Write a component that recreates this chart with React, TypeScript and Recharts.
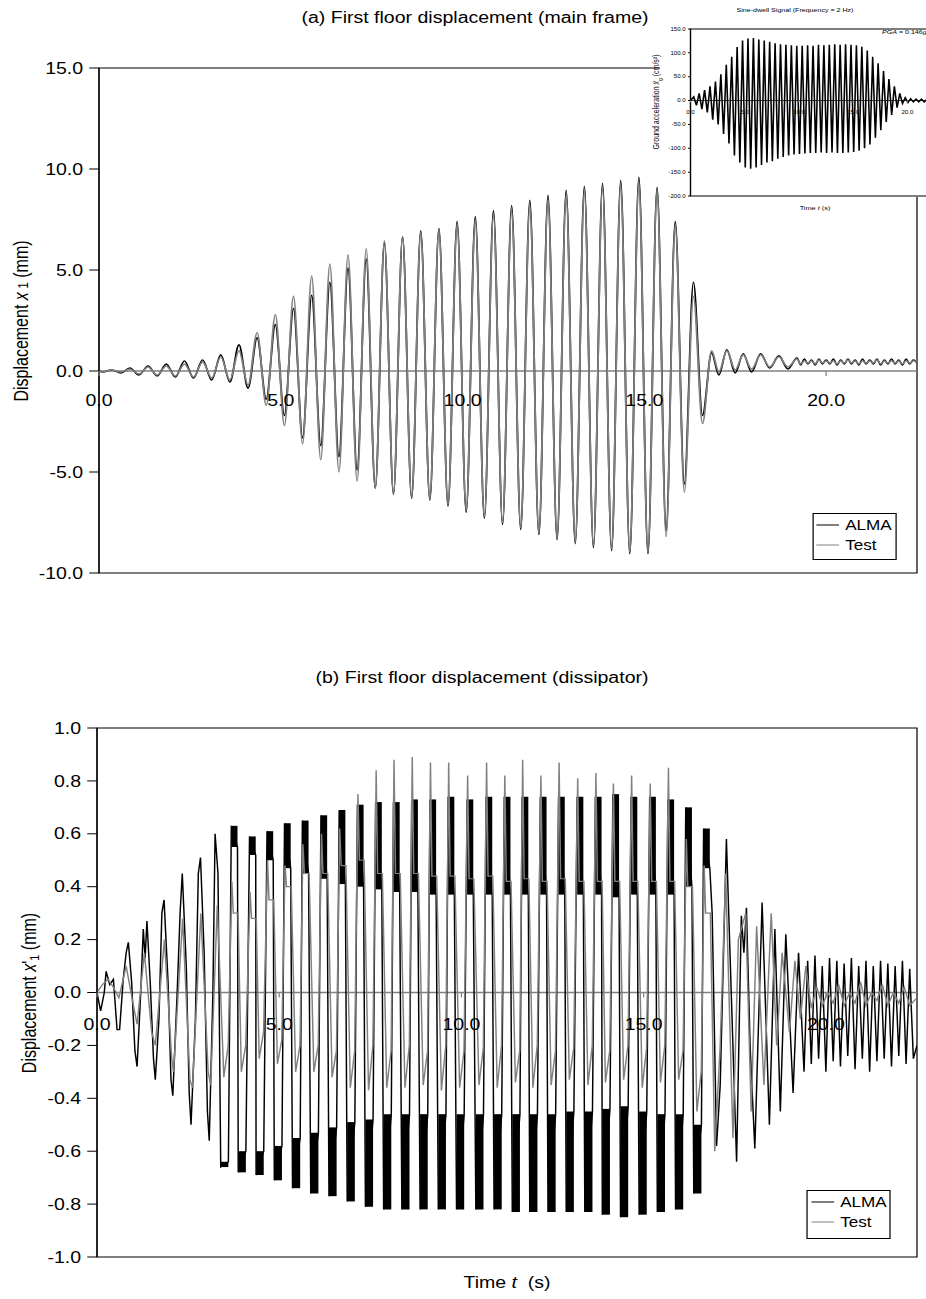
import {
  LineChart,
  Line,
  XAxis,
  YAxis,
  ReferenceLine,
  ReferenceArea,
  Legend,
} from "recharts";

// the source figure is stretched sideways, so everything is drawn narrower and scaled back out
const SX = 1.22;
const px = (v: number) => v / SX;
const PAGE_W = 926;
const PAGE_H = 1299;
const INNER_W = PAGE_W / SX;
const FONT = "'Liberation Sans', Arial, Helvetica, sans-serif";
const GRAY = "#808080";

const xTicks = [0, 5, 10, 15, 20];

// ---------- (a) first floor displacement, main frame (mm) ----------
const aYTicks = [-10, -5, 0, 5, 10, 15];
const aTime = [
  0, 0.1, 0.35, 0.6, 0.85, 1.1, 1.35, 1.6, 1.85, 2.1, 2.35, 2.6, 2.85, 3.1, 3.35, 3.6, 3.85, 4.1,
  4.35, 4.6, 4.85, 5.1, 5.35, 5.6, 5.85, 6.1, 6.35, 6.6, 6.85, 7.1, 7.35, 7.6, 7.85, 8.1, 8.35,
  8.6, 8.85, 9.1, 9.35, 9.6, 9.85, 10.1, 10.35, 10.6, 10.85, 11.1, 11.35, 11.6, 11.85, 12.1,
  12.35, 12.6, 12.85, 13.1, 13.35, 13.6, 13.85, 14.1, 14.35, 14.6, 14.85, 15.1, 15.35, 15.6,
  15.85, 16.1, 16.35, 16.6, 16.85,
  17.05, 17.27, 17.5, 17.72, 17.95, 18.2, 18.45, 18.7, 18.95, 19.2,
  19.3, 19.4, 19.5, 19.6, 19.7, 19.8, 19.9, 20.0, 20.1, 20.2, 20.3, 20.4, 20.5, 20.6, 20.7, 20.8,
  20.9, 21.0, 21.1, 21.2, 21.3, 21.4, 21.5, 21.6, 21.7, 21.8, 21.9, 22.0, 22.1, 22.2, 22.3, 22.4,
  22.5,
];
const aAlma = [
  0, -0.05, 0.05, -0.1, 0.15, -0.2, 0.25, -0.25, 0.35, -0.3,
  0.5, -0.35, 0.55, -0.45, 0.8, -0.55, 1.3, -0.85, 1.65, -1.4,
  2.3, -2.2, 3.1, -3.3, 3.75, -3.7, 4.4, -4.25, 5.1, -4.9,
  5.55, -5.8, 6.35, -6.1, 6.65, -6.3, 6.95, -6.4, 7.05, -6.7,
  7.4, -7.0, 7.65, -7.3, 7.95, -7.6, 8.2, -7.85, 8.45, -8.1,
  8.7, -8.35, 8.95, -8.55, 9.15, -8.75, 9.3, -8.9, 9.45, -9.05,
  9.6, -9.05, 9.1, -7.9, 7.4, -5.6, 4.4, -2.2, 0.9,
  -0.2, 1.05, -0.1, 0.85, -0.05, 0.85, 0.15, 0.75, 0.1, 0.65,
  0.3, 0.6, 0.35, 0.55, 0.3, 0.6, 0.35, 0.55, 0.35, 0.6,
  0.3, 0.55, 0.35, 0.6, 0.35, 0.55, 0.3, 0.6, 0.35, 0.55,
  0.35, 0.6, 0.3, 0.55, 0.35, 0.6, 0.35, 0.55, 0.3, 0.6,
  0.35, 0.55, 0.4,
];
const aTest = [
  0, -0.05, 0.05, -0.05, 0.1, -0.15, 0.2, -0.2, 0.25, -0.25,
  0.35, -0.3, 0.45, -0.35, 0.7, -0.45, 1.0, -0.7, 1.9, -1.7,
  2.8, -2.7, 3.7, -3.6, 4.7, -4.4, 5.3, -5.0, 5.75, -5.45,
  6.05, -5.8, 6.45, -6.05, 6.65, -6.25, 6.85, -6.35, 7.0, -6.6,
  7.25, -6.9, 7.45, -7.2, 7.7, -7.5, 7.95, -7.75, 8.2, -8.0,
  8.45, -8.25, 8.7, -8.45, 8.9, -8.65, 9.05, -8.8, 9.2, -8.95,
  9.35, -8.95, 8.95, -8.2, 7.2, -6.0, 3.7, -2.6, 1.0,
  -0.05, 1.0, 0.05, 0.8, 0.1, 0.8, 0.2, 0.7, 0.2, 0.6,
  0.35, 0.5, 0.4, 0.5, 0.35, 0.55, 0.4, 0.5, 0.4, 0.5,
  0.35, 0.5, 0.4, 0.55, 0.4, 0.5, 0.35, 0.5, 0.4, 0.5,
  0.4, 0.55, 0.35, 0.5, 0.4, 0.5, 0.4, 0.5, 0.35, 0.5,
  0.4, 0.5, 0.45,
];

// ---------- (b) first floor displacement, dissipator (mm) ----------
const bYTicks = [-1, -0.8, -0.6, -0.4, -0.2, 0, 0.2, 0.4, 0.6, 0.8, 1];
// build-up before the dissipator saturates
const bPreT = [
  0, 0.1, 0.2, 0.25, 0.35, 0.45, 0.55, 0.62, 0.72, 0.8, 0.86, 0.95, 1.04, 1.1, 1.2, 1.27, 1.32,
  1.37, 1.46, 1.55, 1.6, 1.7, 1.78, 1.84, 1.95, 2.03, 2.08, 2.2, 2.28, 2.34, 2.45, 2.53, 2.58,
  2.7, 2.78, 2.84, 2.94, 3.03, 3.08, 3.18, 3.24, 3.32,
];
const bPreAlma = [
  0, -0.07, 0.0, 0.08, 0.03, 0.05, -0.14, -0.14, 0.05, 0.15, 0.19, 0.04, -0.22, -0.28, 0.0, 0.24,
  0.13, 0.27, 0.04, -0.25, -0.33, -0.1, 0.3, 0.35, 0.04, -0.33, -0.39, 0.0, 0.3, 0.45, 0.1, -0.38,
  -0.5, -0.1, 0.45, 0.51, 0.15, -0.45, -0.56, 0.0, 0.6, 0.45,
];
const bPreTestT = [
  0, 0.15, 0.3, 0.45, 0.6, 0.8, 1.0, 1.1, 1.3, 1.5, 1.6, 1.85, 2.05, 2.1, 2.35, 2.55, 2.62, 2.85,
  3.05, 3.12, 3.3,
];
const bPreTest = [
  0, 0.03, 0.05, 0.02, -0.02, 0.1, -0.05, -0.12, 0.15, -0.15, -0.2, 0.2, -0.25, -0.3, 0.28, -0.33,
  -0.36, 0.3, -0.3, -0.35, 0.33,
];
// saturated cycles: ALMA chatters inside a band at the top and at the bottom of each cycle
const bTopT = [
  3.77, 4.27, 4.75, 5.23, 5.72, 6.23, 6.73, 7.23, 7.73, 8.22, 8.72, 9.22, 9.72, 10.24, 10.76,
  11.26, 11.75, 12.25, 12.75, 13.26, 13.76, 14.24, 14.74, 15.25, 15.75, 16.24, 16.73,
];
const bTopHi = [
  0.63, 0.59, 0.61, 0.64, 0.65, 0.67, 0.69, 0.71, 0.72, 0.72, 0.73, 0.73, 0.74, 0.73, 0.74, 0.74,
  0.74, 0.74, 0.74, 0.74, 0.74, 0.75, 0.74, 0.74, 0.73, 0.7, 0.62,
];
const bTopLo = [
  0.55, 0.52, 0.5, 0.47, 0.45, 0.43, 0.41, 0.4, 0.39, 0.38, 0.38, 0.37, 0.37, 0.37, 0.37, 0.37,
  0.37, 0.37, 0.37, 0.37, 0.37, 0.36, 0.37, 0.37, 0.37, 0.4, 0.47,
];
const bBotT = [
  3.5, 3.98, 4.47, 4.97, 5.47, 5.97, 6.47, 6.97, 7.47, 7.97, 8.47, 8.97, 9.47, 9.97, 10.5, 11.0,
  11.5, 11.98, 12.48, 12.98, 13.49, 13.97, 14.47, 14.98, 15.48, 15.98, 16.48,
];
const bBotLo = [
  -0.66, -0.68, -0.69, -0.71, -0.74, -0.76, -0.77, -0.79, -0.81, -0.82, -0.82, -0.82, -0.82,
  -0.82, -0.82, -0.82, -0.83, -0.83, -0.83, -0.83, -0.83, -0.84, -0.85, -0.84, -0.83, -0.82, -0.76,
];
const bBotHi = [
  -0.64, -0.6, -0.6, -0.58, -0.55, -0.53, -0.51, -0.49, -0.48, -0.46, -0.46, -0.46, -0.46, -0.46,
  -0.46, -0.46, -0.46, -0.46, -0.46, -0.45, -0.45, -0.44, -0.43, -0.45, -0.46, -0.46, -0.5,
];
const bTestSpike = [
  0.42, 0.38, 0.5, 0.48, 0.56, 0.6, 0.62, 0.75, 0.84, 0.88, 0.89, 0.87, 0.87, 0.82, 0.87, 0.82,
  0.88, 0.82, 0.87, 0.81, 0.83, 0.79, 0.82, 0.79, 0.85, 0.58, 0.48,
];
const bTestShoulder = [
  0.3, 0.28, 0.35, 0.4, 0.45, 0.45, 0.48, 0.5, 0.45, 0.45, 0.45, 0.44, 0.44, 0.43, 0.44, 0.42,
  0.43, 0.42, 0.43, 0.42, 0.42, 0.42, 0.42, 0.42, 0.42, 0.4, 0.3,
];
const bTestTrough = [
  -0.32, -0.3, -0.25, -0.27, -0.3, -0.3, -0.32, -0.36, -0.37, -0.36, -0.36, -0.35, -0.37, -0.36,
  -0.35, -0.36, -0.34, -0.36, -0.35, -0.33, -0.35, -0.34, -0.33, -0.36, -0.34, -0.33, -0.45,
];
const bTestLedge = [
  -0.2, -0.2, -0.15, -0.18, -0.2, -0.2, -0.22, -0.22, -0.2, -0.22, -0.2, -0.22, -0.2, -0.22,
  -0.21, -0.2, -0.22, -0.2, -0.22, -0.21, -0.2, -0.22, -0.2, -0.21, -0.2, -0.22, -0.3,
];
// free vibration after the input stops
const bPostT = [
  16.88, 17.0, 17.1, 17.27, 17.38, 17.55, 17.68, 17.75, 17.82, 17.92, 18.05, 18.25, 18.45, 18.6,
  18.75, 18.9, 19.1, 19.25, 19.4, 19.5, 19.6, 19.7, 19.8, 19.9, 20.0, 20.1, 20.2, 20.3, 20.4,
  20.5, 20.6, 20.7, 20.8, 20.9, 21.0, 21.1, 21.2, 21.3, 21.4, 21.5, 21.6, 21.7, 21.8, 21.9, 22.0,
  22.1, 22.2, 22.3, 22.4, 22.5,
];
const bPostAlma = [
  0.3, -0.58, -0.35, 0.58, 0.1, -0.64, 0.29, 0.15, 0.32, -0.2, -0.59, 0.34, -0.5, 0.24, -0.45,
  0.22, -0.38, 0.15, -0.3, 0.12, -0.27, 0.14, -0.25, 0.1, -0.3, 0.13, -0.26, 0.12, -0.28, 0.11,
  -0.24, 0.13, -0.29, 0.1, -0.25, 0.12, -0.3, 0.1, -0.26, 0.12, -0.25, 0.11, -0.28, 0.1, -0.24,
  0.12, -0.27, 0.09, -0.25, -0.2,
];
const bPostTestT = [
  16.95, 17.1, 17.25, 17.45, 17.6, 17.8, 17.95, 18.1, 18.3, 18.5, 18.65, 18.8, 19.0, 19.15, 19.3,
  19.45, 19.6, 19.75, 19.9, 20.05, 20.2, 20.35, 20.5, 20.65, 20.8, 20.95, 21.1, 21.25, 21.4,
  21.55, 21.7, 21.85, 22.0, 22.15, 22.3, 22.5,
];
const bPostTest = [
  -0.6, -0.2, 0.45, -0.55, 0.2, 0.3, -0.45, 0.25, -0.35, 0.3, -0.2, 0.15, -0.15, 0.12, -0.1, 0.1,
  -0.06, 0.02, -0.05, 0.0, -0.04, 0.03, -0.05, 0.0, -0.04, 0.04, -0.05, 0.0, -0.03, 0.03, -0.05,
  0.0, -0.04, 0.02, -0.05, -0.02,
];

// ---------- inset: sine-dwell ground acceleration (cm/s2) ----------
const gYTicks = [-200, -150, -100, -50, 0, 50, 100, 150];
const gPeakT = [
  0.3, 0.8, 1.3, 1.8, 2.3, 2.8, 3.3, 3.8, 4.3, 4.8, 5.3, 5.8, 6.3, 6.8, 7.3, 7.8, 8.3, 8.8, 9.3,
  9.8, 10.3, 10.8, 11.3, 11.8, 12.3, 12.8, 13.3, 13.8, 14.3, 14.8, 15.3, 15.8, 16.3, 16.8, 17.3,
  17.8, 18.3, 18.8, 19.3, 19.8, 20.3, 20.8, 21.3, 21.8, 22.3,
];
const gPeak = [
  8, 15, 22, 30, 40, 55, 75, 92, 112, 126, 130, 131, 128, 126, 123, 120, 118, 117, 116, 115, 115,
  116, 115, 117, 116, 117, 118, 117, 118, 117, 116, 113, 105, 92, 78, 62, 45, 30, 15, 6, 4, 3, 3,
  3, 2,
];
const gTroughT = [
  0.55, 1.05, 1.55, 2.05, 2.55, 3.05, 3.55, 4.05, 4.55, 5.05, 5.55, 6.05, 6.55, 7.05, 7.55, 8.05,
  8.55, 9.05, 9.55, 10.05, 10.55, 11.05, 11.55, 12.05, 12.55, 13.05, 13.55, 14.05, 14.55, 15.05,
  15.55, 16.05, 16.55, 17.05, 17.55, 18.05, 18.55, 19.05, 19.55, 20.05, 20.55, 21.05, 21.55, 22.05,
];
const gTrough = [
  -10, -18, -25, -40, -50, -70, -90, -115, -130, -140, -143, -140, -135, -130, -127, -122, -118,
  -115, -113, -112, -111, -110, -110, -109, -110, -109, -110, -110, -109, -108, -105, -100, -92,
  -78, -62, -45, -30, -15, -6, -4, -3, -3, -3, -2,
];

// ---------- rows for the charts ----------
const TOP_HALF = 0.085; // half width (s) of a chatter band at the top
const BOT_HALF = 0.105; // and at the bottom

const aRows = aTime.map((t, i) => ({ t, alma: aAlma[i], test: aTest[i] }));

const bAlmaPts = [
  ...bPreT.map((t, i) => ({ t, v: bPreAlma[i] })),
  ...bBotT.flatMap((bt, k) => [
    { t: bt - BOT_HALF, v: bBotLo[k] },
    { t: bt + BOT_HALF, v: bBotHi[k] },
    { t: bTopT[k] - TOP_HALF, v: bTopHi[k] },
    { t: bTopT[k] + TOP_HALF, v: bTopLo[k] },
  ]),
  ...bPostT.map((t, i) => ({ t, v: bPostAlma[i] })),
];
const bTestPts = [
  ...bPreTestT.map((t, i) => ({ t, v: bPreTest[i] })),
  ...bBotT.flatMap((bt, k) => [
    { t: bt - 0.02, v: bTestTrough[k] },
    { t: bt + 0.1, v: bTestLedge[k] },
    { t: bTopT[k] - 0.07, v: bTestSpike[k] },
    { t: bTopT[k] - 0.03, v: bTestShoulder[k] },
    { t: bTopT[k] + 0.1, v: bTestShoulder[k] },
  ]),
  ...bPostTestT.map((t, i) => ({ t, v: bPostTest[i] })),
];
const bRows = [
  ...bAlmaPts.map((p) => ({ t: p.t, alma: p.v })),
  ...bTestPts.map((p) => ({ t: p.t, test: p.v })),
].sort((p, q) => p.t - q.t);

// dense chatter bands of the ALMA curve
const bBands = [
  ...bTopT.map((t, k) => ({ x1: t - TOP_HALF, x2: t + TOP_HALF, y1: bTopLo[k], y2: bTopHi[k] })),
  ...bBotT.map((t, k) => ({ x1: t - BOT_HALF, x2: t + BOT_HALF, y1: bBotLo[k], y2: bBotHi[k] })),
];

const gRows = [
  { t: 0, acc: 0 },
  ...gPeakT.map((t, i) => ({ t, acc: gPeak[i] })),
  ...gTroughT.map((t, i) => ({ t, acc: gTrough[i] })),
].sort((p, q) => p.t - q.t);

// ---------- layout (page pixels) ----------
const A_H = 600;
const A_TOP = 68;
const A_BOTTOM = 573;
const A_LEFT = 99;
const RIGHT = 917;

const B_Y = 700;
const B_H = 600;
const B_TOP = 728;
const B_BOTTOM = 1257;
const B_LEFT = 97;

const G_X = 640;
const G_W = 310;
const G_H = 220;
const G_TOP = 29;
const G_BOTTOM = 196;
const G_LEFT = 690;
const G_RIGHT = 934;

const AXIS_W = 60;
const XAXIS_H = 20;

// tick labels hang under the zero line, not under the bottom frame
function ZeroTick(props: any) {
  const { x = 0, y = 0, payload, shift, gap, size, len } = props;
  const y0 = y - shift;
  return (
    <g>
      <line x1={x} x2={x} y1={y0} y2={y0 + len} stroke={GRAY} />
      <text
        x={x}
        y={y0 + gap}
        textAnchor="middle"
        dominantBaseline="central"
        fontSize={size}
        fill="#000"
        fontFamily={FONT}
      >
        {payload ? Number(payload.value).toFixed(1) : ""}
      </text>
    </g>
  );
}

function LegendBox(props: any) {
  const items = props.payload || [];
  return (
    <div
      style={{
        border: "1px solid #000",
        background: "#fff",
        padding: `1px 0 0 ${px(3)}px`,
        height: "100%",
        boxSizing: "border-box",
        fontFamily: FONT,
        fontSize: 14,
        color: "#000",
      }}
    >
      {items.map((e: any) => (
        <div key={e.value} style={{ display: "flex", alignItems: "center", height: 20 }}>
          <svg width={px(23)} height={4}>
            <line x1={0} x2={px(23)} y1={2} y2={2} stroke={e.color} strokeWidth={1.2} />
          </svg>
          <span style={{ marginLeft: px(6), lineHeight: 1 }}>{e.value}</span>
        </div>
      ))}
    </div>
  );
}

function Text(props: any) {
  const { x, y, size, rotate, children, anchor } = props;
  const tx = anchor === "start" ? "0" : "-50%";
  return (
    <div
      style={{
        position: "absolute",
        left: px(x),
        top: y,
        transform: `translate(${tx}, -50%)${rotate ? " rotate(-90deg)" : ""}`,
        fontSize: size,
        lineHeight: 1,
        whiteSpace: "nowrap",
        color: "#000",
      }}
    >
      {children}
    </div>
  );
}

const yFmt = (v: number) => v.toFixed(1);

export default function App() {
  const aShift = ((A_BOTTOM - A_TOP) * 10) / 25;
  const bShift = (B_BOTTOM - B_TOP) / 2;
  const gShift = ((G_BOTTOM - G_TOP) * 200) / 350;

  return (
    <div
      style={{
        position: "absolute",
        left: 0,
        top: 0,
        width: PAGE_W,
        height: PAGE_H,
        overflow: "hidden",
        background: "#fff",
        fontFamily: FONT,
      }}
    >
      <div
        style={{
          position: "relative",
          width: INNER_W,
          height: PAGE_H,
          transform: `scaleX(${SX})`,
          transformOrigin: "0 0",
        }}
      >
        {/* (a) main frame */}
        <div style={{ position: "absolute", left: 0, top: 0 }}>
          <LineChart
            width={INNER_W}
            height={A_H}
            data={aRows}
            margin={{
              top: A_TOP,
              right: INNER_W - px(RIGHT),
              bottom: A_H - A_BOTTOM - XAXIS_H,
              left: px(A_LEFT) - AXIS_W,
            }}
          >
            <XAxis
              dataKey="t"
              type="number"
              domain={[0, 22.5]}
              allowDataOverflow
              ticks={xTicks}
              interval={0}
              height={XAXIS_H}
              axisLine={false}
              tickLine={false}
              tickSize={0}
              tickMargin={0}
              tick={(p: any) => <ZeroTick {...p} shift={aShift} gap={30} size={16} len={5} />}
            />
            <YAxis
              type="number"
              domain={[-10, 15]}
              allowDataOverflow
              ticks={aYTicks}
              interval={0}
              width={AXIS_W}
              tickFormatter={yFmt}
              axisLine={{ stroke: "#000" }}
              tickLine={{ stroke: "#000" }}
              tickSize={8}
              tickMargin={5}
              tick={{ fontSize: 16, fill: "#000" }}
            />
            <ReferenceArea x1={0} x2={22.5} y1={-10} y2={15} fill="none" stroke="#000" />
            <ReferenceLine y={0} stroke={GRAY} strokeWidth={1.6} />
            <Line
              type="monotone"
              dataKey="alma"
              name="ALMA"
              stroke="#000"
              strokeWidth={1.45}
              dot={false}
              activeDot={false}
              isAnimationActive={false}
            />
            <Line
              type="monotone"
              dataKey="test"
              name="Test"
              stroke={GRAY}
              strokeWidth={1.45}
              dot={false}
              activeDot={false}
              isAnimationActive={false}
            />
            <Legend
              layout="vertical"
              align="center"
              verticalAlign="middle"
              content={LegendBox}
              wrapperStyle={{ left: px(812), top: 513, width: px(85), height: 47 }}
            />
          </LineChart>
        </div>

        {/* inset background */}
        <div
          style={{
            position: "absolute",
            left: px(660),
            top: 0,
            width: px(300),
            height: 197,
            background: "#fff",
          }}
        />

        {/* inset: ground acceleration */}
        <div style={{ position: "absolute", left: px(G_X), top: 0 }}>
          <LineChart
            width={px(G_W)}
            height={G_H}
            data={gRows}
            margin={{
              top: G_TOP,
              right: px(G_W) - px(G_RIGHT - G_X),
              bottom: G_H - G_BOTTOM - 10,
              left: px(G_LEFT - G_X) - 30,
            }}
          >
            <XAxis
              dataKey="t"
              type="number"
              domain={[0, 22.5]}
              allowDataOverflow
              ticks={xTicks}
              interval={0}
              height={10}
              axisLine={false}
              tickLine={false}
              tickSize={0}
              tickMargin={0}
              tick={(p: any) => <ZeroTick {...p} shift={gShift} gap={11.5} size={5} len={2} />}
            />
            <YAxis
              type="number"
              domain={[-200, 150]}
              allowDataOverflow
              ticks={gYTicks}
              interval={0}
              width={30}
              tickFormatter={yFmt}
              axisLine={{ stroke: "#000" }}
              tickLine={{ stroke: "#000" }}
              tickSize={2}
              tickMargin={2}
              tick={{ fontSize: 5, fill: "#000" }}
            />
            <ReferenceArea x1={0} x2={22.5} y1={-200} y2={150} fill="none" stroke="#000" />
            <ReferenceLine y={0} stroke="#444" strokeWidth={1} />
            <Line
              type="linear"
              dataKey="acc"
              stroke="#000"
              strokeWidth={1.3}
              dot={false}
              activeDot={false}
              isAnimationActive={false}
            />
          </LineChart>
        </div>
        <Text x={795} y={11} size={5.8}>
          Sine-dwell Signal (Frequency = 2 Hz)
        </Text>
        <Text x={657} y={102} size={7} rotate>
          Ground acceleration <i>ẍ</i>
          <sub style={{ fontSize: 5 }}>g</sub> (cm/s²)
        </Text>
        <Text x={882} y={33} size={5.8} anchor="start">
          <i>PGA</i> = 0.146<i>g</i>
        </Text>
        <Text x={815} y={208} size={6}>
          Time <i>t</i> (s)
        </Text>

        {/* (b) dissipator */}
        <div style={{ position: "absolute", left: 0, top: B_Y }}>
          <LineChart
            width={INNER_W}
            height={B_H}
            data={bRows}
            margin={{
              top: B_TOP - B_Y,
              right: INNER_W - px(RIGHT),
              bottom: B_H - (B_BOTTOM - B_Y) - XAXIS_H,
              left: px(B_LEFT) - AXIS_W,
            }}
          >
            <XAxis
              dataKey="t"
              type="number"
              domain={[0, 22.5]}
              allowDataOverflow
              ticks={xTicks}
              interval={0}
              height={XAXIS_H}
              axisLine={false}
              tickLine={false}
              tickSize={0}
              tickMargin={0}
              tick={(p: any) => <ZeroTick {...p} shift={bShift} gap={32} size={16} len={5} />}
            />
            <YAxis
              type="number"
              domain={[-1, 1]}
              allowDataOverflow
              ticks={bYTicks}
              interval={0}
              width={AXIS_W}
              tickFormatter={yFmt}
              axisLine={{ stroke: "#000" }}
              tickLine={{ stroke: "#000" }}
              tickSize={8}
              tickMargin={5}
              tick={{ fontSize: 16, fill: "#000" }}
            />
            <ReferenceArea x1={0} x2={22.5} y1={-1} y2={1} fill="none" stroke="#000" />
            {bBands.map((b, i) => (
              <ReferenceArea
                key={i}
                x1={b.x1}
                x2={b.x2}
                y1={b.y1}
                y2={b.y2}
                fill="#000"
                fillOpacity={1}
                stroke="none"
              />
            ))}
            <ReferenceLine y={0} stroke={GRAY} strokeWidth={1.6} />
            <Line
              type="linear"
              dataKey="alma"
              name="ALMA"
              stroke="#000"
              strokeWidth={1.2}
              dot={false}
              activeDot={false}
              connectNulls
              isAnimationActive={false}
            />
            <Line
              type="linear"
              dataKey="test"
              name="Test"
              stroke={GRAY}
              strokeWidth={1.2}
              dot={false}
              activeDot={false}
              connectNulls
              isAnimationActive={false}
            />
            <Legend
              layout="vertical"
              align="center"
              verticalAlign="middle"
              content={LegendBox}
              wrapperStyle={{ left: px(807), top: 1190 - B_Y, width: px(84), height: 49 }}
            />
          </LineChart>
        </div>

        {/* titles and axis labels */}
        <Text x={475} y={18} size={16}>
          (a) First floor displacement (main frame)
        </Text>
        <Text x={22} y={(A_TOP + A_BOTTOM) / 2} size={16} rotate>
          Displacement <i>x</i>
          <span style={{ fontSize: 12 }}> 1</span> (mm)
        </Text>
        <Text x={482} y={678} size={16}>
          (b) First floor displacement (dissipator)
        </Text>
        <Text x={30} y={(B_TOP + B_BOTTOM) / 2} size={16} rotate>
          Displacement <i>x</i>'<span style={{ fontSize: 11, verticalAlign: "-0.2em" }}>1</span> (mm)
        </Text>
        <Text x={507} y={1283} size={16}>
          Time <i>t</i>&nbsp; (s)
        </Text>
      </div>
    </div>
  );
}
